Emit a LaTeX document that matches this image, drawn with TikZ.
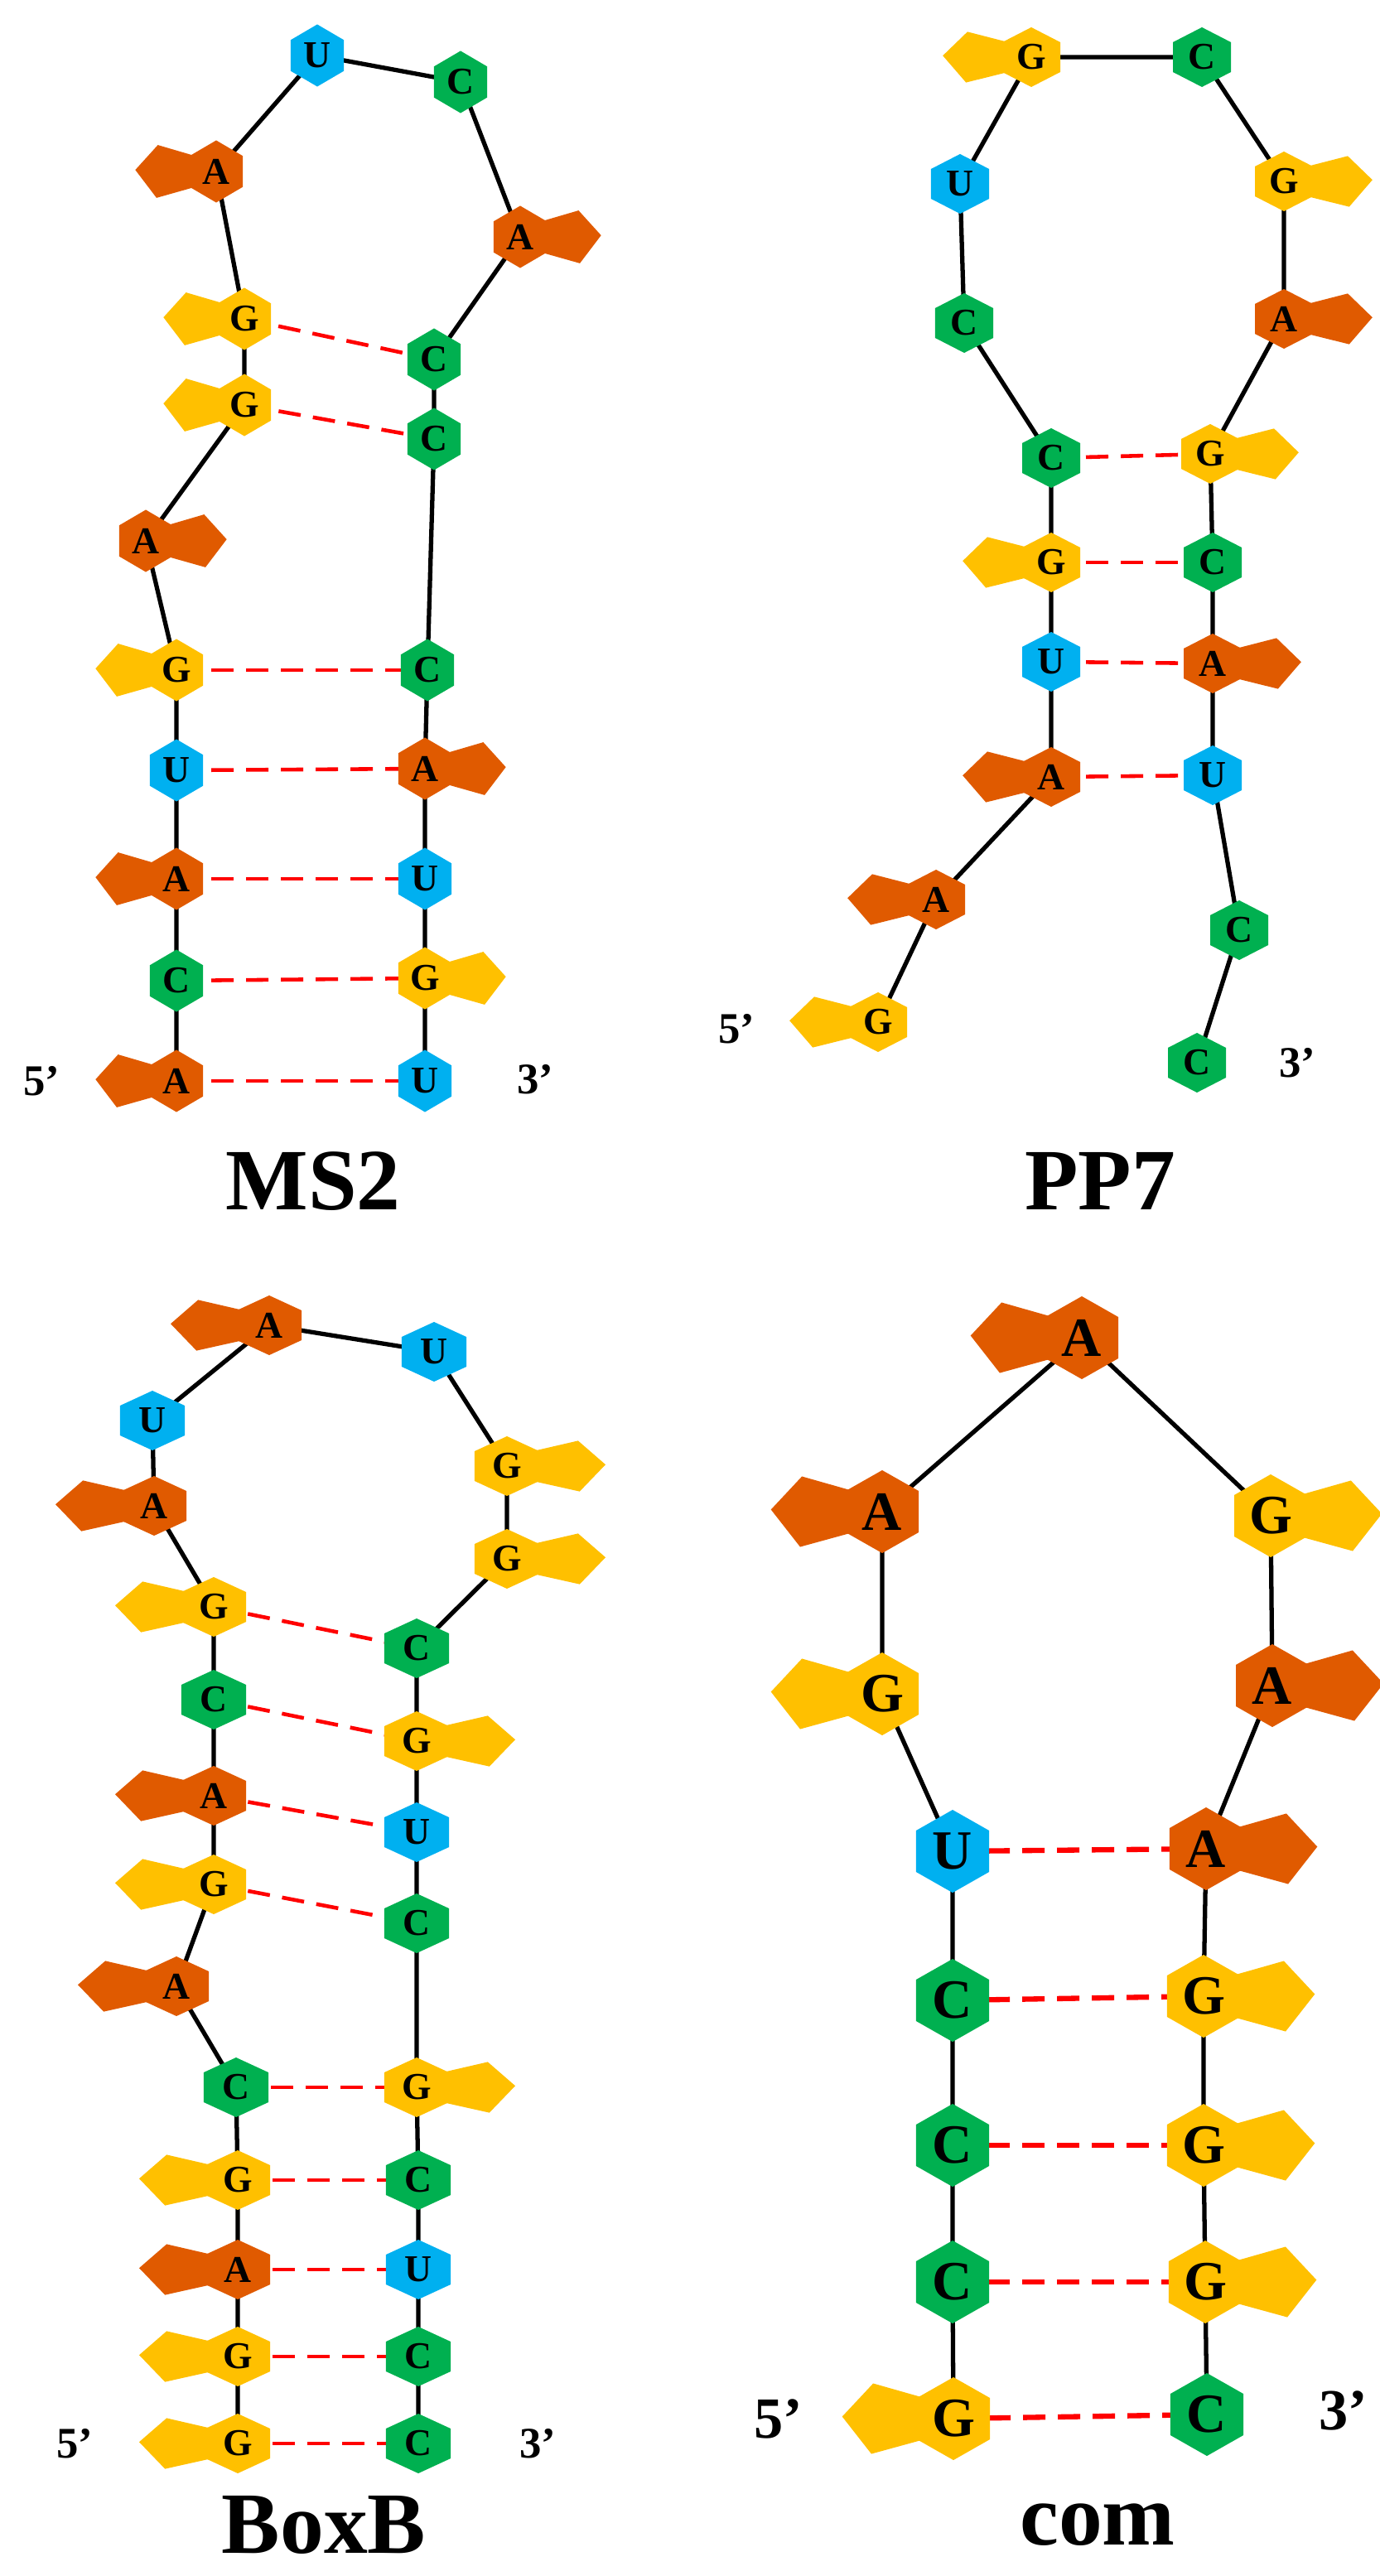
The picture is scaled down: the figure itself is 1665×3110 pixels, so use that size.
\documentclass[tikz,border=0pt]{standalone}
\usepackage{fontspec}
\setmainfont{Liberation Serif}
\begin{document}
\definecolor{cA}{HTML}{E05A00}
\definecolor{cG}{HTML}{FFC000}
\definecolor{cC}{HTML}{00B050}
\definecolor{cU}{HTML}{00B0F0}
\pgfdeclarelayer{bg}
\pgfsetlayers{bg,main}
\newcommand\hw{0.32cm}
\newcommand\hh{0.375cm}
\newcommand\lfs{\fontsize{13}{13}\selectfont}
% name, x, y, base, side
\newcommand\nt[5]{%
 \coordinate (#1) at (#2,-#3);
 \begin{scope}[shift={(#2,-#3)}, x=\hw, y=\hh]
  \ifnum#5=0\else \fill[c#4, xscale=#5] (0.8,0.5)--(2.2,0.85)--(3.05,0.05)--(2.25,-0.85)--(0.8,-0.5)--cycle;\fi
  \fill[c#4] (0,1)--(1,0.5)--(1,-0.5)--(0,-1)--(-1,-0.5)--(-1,0.5)--cycle;
 \end{scope}
 \node[font=\lfs\bfseries, inner sep=0pt] (#1-l) at (#1) {#4};}
\begin{tikzpicture}[x=0.01cm,y=0.01cm,
  bb/.style={line width=1.5pt},
  bp/.style={red, line width=1.3pt, dash pattern=on 0.27cm off 0.15cm},
  lab/.style={font=\fontsize{30}{30}\selectfont\bfseries},
  end/.style={font=\fontsize{15}{15}\selectfont\bfseries}]
\useasboundingbox (0,0) rectangle (1665,-3110);
% ---------- MS2
\nt{m1}{383}{67}{U}{0}
\nt{m2}{556}{99}{C}{0}
\nt{m3}{261}{207}{A}{-1}
\nt{m4}{628}{286}{A}{1}
\nt{m5}{295}{385}{G}{-1}
\nt{m6}{524}{434}{C}{0}
\nt{m7}{295}{489}{G}{-1}
\nt{m8}{524}{530}{C}{0}
\nt{m9}{176}{653}{A}{1}
\nt{m10}{213}{809}{G}{-1}
\nt{m11}{516}{809}{C}{0}
\nt{m12}{213}{930}{U}{0}
\nt{m13}{513}{928}{A}{1}
\nt{m14}{213}{1061}{A}{-1}
\nt{m15}{513}{1061}{U}{0}
\nt{m16}{213}{1184}{C}{0}
\nt{m17}{513}{1181}{G}{1}
\nt{m18}{213}{1305}{A}{-1}
\nt{m19}{513}{1305}{U}{0}
\node[end] (m5p) at (50,-1305) {5’};
\node[end] (m3p) at (646,-1303) {3’};
\node[lab] (mlab) at (378,-1426) {MS2};
\begin{pgfonlayer}{bg}
\draw[bb] (m18)--(m16)--(m14)--(m12)--(m10)--(m9)--(m7)--(m5)--(m3)--(m1)--(m2)--(m4)--(m6)--(m8)--(m11)--(m13)--(m15)--(m17)--(m19);
\foreach \a/\b in {m5/m6,m7/m8,m10/m11,m12/m13,m14/m15,m16/m17,m18/m19} \draw[bp] (\a)--(\b);
\end{pgfonlayer}
% ---------- PP7
\renewcommand\hw{0.35cm}\renewcommand\hh{0.36cm}
\nt{p1}{1060}{1234}{G}{-1}
\nt{p2}{1130}{1086}{A}{-1}
\nt{p3}{1269}{938}{A}{-1}
\nt{p4}{1269}{799}{U}{0}
\nt{p5}{1269}{679}{G}{-1}
\nt{p6}{1269}{553}{C}{0}
\nt{p7}{1164}{390}{C}{0}
\nt{p8}{1159}{222}{U}{0}
\nt{p9}{1245}{69}{G}{-1}
\nt{p10}{1451}{69}{C}{0}
\nt{p11}{1550}{219}{G}{1}
\nt{p12}{1550}{385}{A}{1}
\nt{p13}{1461}{548}{G}{1}
\nt{p14}{1464}{679}{C}{0}
\nt{p15}{1464}{801}{A}{1}
\nt{p16}{1464}{936}{U}{0}
\nt{p17}{1496}{1123}{C}{0}
\nt{p18}{1445}{1283}{C}{0}
\node[end] (p5p) at (889,-1242) {5’};
\node[end] (p3p) at (1566,-1283) {3’};
\node[lab] (plab) at (1328,-1426) {PP7};
\begin{pgfonlayer}{bg}
\draw[bb] (p1)--(p2)--(p3)--(p4)--(p5)--(p6)--(p7)--(p8)--(p9)--(p10)--(p11)--(p12)--(p13)--(p14)--(p15)--(p16)--(p17)--(p18);
\foreach \a/\b in {p6/p13,p5/p14,p4/p15,p3/p16} \draw[bp] (\a)--(\b);
\end{pgfonlayer}
% ---------- BoxB
\renewcommand\hw{0.39cm}\renewcommand\hh{0.36cm}
\nt{b1}{287}{2950}{G}{-1}
\nt{b2}{287}{2845}{G}{-1}
\nt{b3}{287}{2740}{A}{-1}
\nt{b4}{287}{2632}{G}{-1}
\nt{b5}{285}{2520}{C}{0}
\nt{b6}{213}{2398}{A}{-1}
\nt{b7}{258}{2275}{G}{-1}
\nt{b8}{258}{2168}{A}{-1}
\nt{b9}{258}{2052}{C}{0}
\nt{b10}{258}{1940}{G}{-1}
\nt{b11}{186}{1818}{A}{-1}
\nt{b12}{184}{1715}{U}{0}
\nt{b13}{325}{1600}{A}{-1}
\nt{b14}{524}{1632}{U}{0}
\nt{b15}{612}{1770}{G}{1}
\nt{b16}{612}{1882}{G}{1}
\nt{b17}{503}{1990}{C}{0}
\nt{b18}{503}{2102}{G}{1}
\nt{b19}{503}{2212}{U}{0}
\nt{b20}{503}{2322}{C}{0}
\nt{b21}{503}{2520}{G}{1}
\nt{b22}{505}{2632}{C}{0}
\nt{b23}{505}{2740}{U}{0}
\nt{b24}{505}{2845}{C}{0}
\nt{b25}{505}{2950}{C}{0}
\node[end] (b5p) at (90,-2950) {5’};
\node[end] (b3p) at (649,-2950) {3’};
\node[lab] (blab) at (391,-3048) {BoxB};
\begin{pgfonlayer}{bg}
\draw[bb] (b1)--(b2)--(b3)--(b4)--(b5)--(b6)--(b7)--(b8)--(b9)--(b10)--(b11)--(b12)--(b13)--(b14)--(b15)--(b16)--(b17)--(b18)--(b19)--(b20)--(b21)--(b22)--(b23)--(b24)--(b25);
\foreach \a/\b in {b10/b17,b9/b18,b8/b19,b7/b20,b5/b21,b4/b22,b3/b23,b2/b24,b1/b25} \draw[bp] (\a)--(\b);
\end{pgfonlayer}
% ---------- com
\renewcommand\hw{0.44cm}\renewcommand\hh{0.5cm}
\renewcommand\lfs{\fontsize{19}{19}\selectfont}
\nt{c1}{1151}{2920}{G}{-1}
\nt{c2}{1150}{2755}{C}{0}
\nt{c3}{1150}{2590}{C}{0}
\nt{c4}{1150}{2415}{C}{0}
\nt{c5}{1150}{2235}{U}{0}
\nt{c6}{1065}{2045}{G}{-1}
\nt{c7}{1065}{1825}{A}{-1}
\nt{c8}{1306}{1615}{A}{-1}
\nt{c9}{1534}{1830}{G}{1}
\nt{c10}{1536}{2035}{A}{1}
\nt{c11}{1456}{2232}{A}{1}
\nt{c12}{1453}{2410}{G}{1}
\nt{c13}{1453}{2590}{G}{1}
\nt{c14}{1455}{2755}{G}{1}
\nt{c15}{1457}{2915}{C}{0}
\node[font=\fontsize{20}{20}\selectfont\bfseries] (c5p) at (940,-2920) {5’};
\node[font=\fontsize{20}{20}\selectfont\bfseries] (c3p) at (1622,-2910) {3’};
\node[lab] (clab) at (1325,-3048) {com};
\begin{pgfonlayer}{bg}
\draw[bb] (c1)--(c2)--(c3)--(c4)--(c5)--(c6)--(c7)--(c8)--(c9)--(c10)--(c11)--(c12)--(c13)--(c14)--(c15);
\foreach \a/\b in {c5/c11,c4/c12,c3/c13,c2/c14,c1/c15} \draw[bp, line width=1.8pt] (\a)--(\b);
\end{pgfonlayer}
\end{tikzpicture}
\end{document}
